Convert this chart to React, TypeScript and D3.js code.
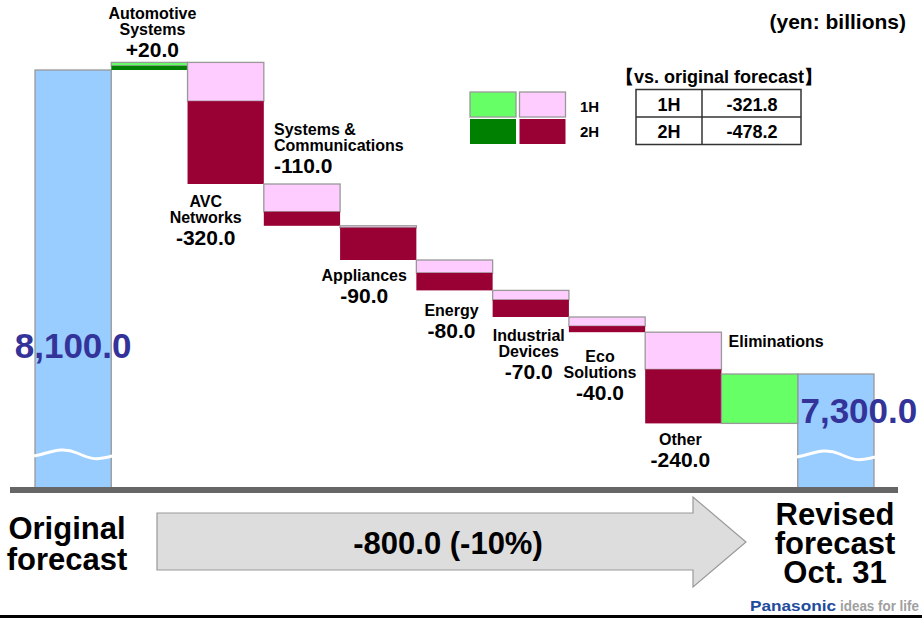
import React from 'react';
import * as d3 from 'd3';

// columns of the waterfall, left to right
const columns = [
  'Original forecast',
  'Automotive Systems',
  'AVC Networks',
  'Systems & Communications',
  'Appliances',
  'Energy',
  'Industrial Devices',
  'Eco Solutions',
  'Other',
  'Eliminations',
  'Revised forecast',
];
const segmentNames = columns.slice(1, -1);
const segmentLabelLines = [
  ['Automotive', 'Systems'],
  ['AVC', 'Networks'],
  ['Systems &', 'Communications'],
  ['Appliances'],
  ['Energy'],
  ['Industrial', 'Devices'],
  ['Eco', 'Solutions'],
  ['Other'],
  ['Eliminations'],
];
const segmentValueLabels = ['+20.0', '-320.0', '-110.0', '-90.0', '-80.0', '-70.0', '-40.0', '-240.0', ''];
// 1H / 2H parts of each change (yen billions)
const firstHalf = [9, -102, -73, -5, -34, -25, -24, -98, 130];
const secondHalf = [11, -218, -37, -85, -46, -45, -16, -142, 0];

const originalValue = 8100;
const revisedValue = 7300;
const originalLabel = '8,100.0';
const revisedLabel = '7,300.0';
const totalChangeLabel = '-800.0 (-10%)';

const tableTitle = '【vs. original forecast】';
const tableRows = [
  ['1H', '-321.8'],
  ['2H', '-478.2'],
];
const legendKeys = ['1H', '2H'];

// label placement per segment (offset from bar centre, relative to bar top or bottom)
const labelLayout = [
  { anchor: 'middle', dx: 3, ref: 'top', dy: -43 },
  { anchor: 'middle', dx: -20, ref: 'bottom', dy: 23 },
  { anchor: 'start', dx: -28, ref: 'top', dy: -49 },
  { anchor: 'middle', dx: -14, ref: 'bottom', dy: 21 },
  { anchor: 'middle', dx: -3, ref: 'bottom', dy: 26 },
  { anchor: 'middle', dx: -2, ref: 'bottom', dy: 24 },
  { anchor: 'middle', dx: -7, ref: 'bottom', dy: 30 },
  { anchor: 'middle', dx: -3, ref: 'bottom', dy: 22 },
  { anchor: 'start', dx: -31, ref: 'top', dy: -27 },
];

const FONT = '"Liberation Sans", Arial, Helvetica, sans-serif';
const C = {
  blue: '#99ccff',
  pink: '#ffccff',
  wine: '#990033',
  lightGreen: '#66ff66',
  darkGreen: '#008000',
  edge: '#999999',
  number: '#333399',
};

const App = () => {
  const width = 922;
  const height = 618;

  const x = d3.scaleBand().domain(columns).range([35, 874]).padding(0);
  const y = d3.scaleLinear().domain([7000, 8100]).range([488, 70]);
  const bw = x.bandwidth();

  // build waterfall pieces
  let running = originalValue;
  const pieces = segmentNames.map((name, i) => {
    const h1 = firstHalf[i];
    const h2 = secondHalf[i];
    const total = h1 + h2;
    const top = Math.max(running, running + total);
    const bottom = Math.min(running, running + total);
    const mid = top - Math.abs(h1);
    const positive = total > 0;
    running += total;
    return { name, i, top, mid, bottom, positive };
  });

  const wave = (x0: number, x1: number, y0: number) => {
    const w = x1 - x0;
    return `M${x0},${y0} C${x0 + w * 0.2},${y0 - 3} ${x0 + w * 0.35},${y0 - 10} ${x0 + w * 0.55},${y0 - 3}` +
      ` S${x0 + w * 0.8},${y0 + 4} ${x1},${y0}`;
  };

  const bold = { fontFamily: FONT, fontWeight: 700 } as const;

  const xo = x(columns[0])!;
  const xr = x(columns[columns.length - 1])!;

  return (
    <svg width={width} height={height} style={{ position: 'absolute', left: 0, top: 0, background: '#fff' }}>
      {/* start and end bars */}
      <rect x={xo} y={y(originalValue)} width={bw} height={y(7000) - y(originalValue)} fill={C.blue} stroke={C.edge} strokeWidth={1.3} />
      <rect x={xr} y={y(revisedValue)} width={bw} height={y(7000) - y(revisedValue)} fill={C.blue} stroke={C.edge} strokeWidth={1.3} />
      <path d={wave(xo - 1, xo + bw + 1, 456)} fill="none" stroke="#fff" strokeWidth={3} />
      <path d={wave(xr - 1, xr + bw + 1, 457)} fill="none" stroke="#fff" strokeWidth={3} />

      {/* change segments */}
      {pieces.map((p) => {
        const bx = x(p.name)!;
        return (
          <g key={p.name}>
            <rect x={bx} y={y(p.top)} width={bw} height={y(p.mid) - y(p.top)}
              fill={p.positive ? C.lightGreen : C.pink} stroke={C.edge} strokeWidth={1.3} />
            {p.mid > p.bottom && (
              <rect x={bx} y={y(p.mid)} width={bw} height={y(p.bottom) - y(p.mid)}
                fill={p.positive ? C.darkGreen : C.wine} />
            )}
          </g>
        );
      })}

      {/* segment labels */}
      {pieces.map((p) => {
        const L = labelLayout[p.i];
        const cx = x(p.name)! + bw / 2 + L.dx;
        const base = (L.ref === 'top' ? y(p.top) : y(p.bottom)) + L.dy;
        const lines = segmentLabelLines[p.i];
        return (
          <g key={'l' + p.name} style={bold} textAnchor={L.anchor}>
            {lines.map((t, k) => (
              <text key={k} x={cx} y={base + k * 16} fontSize={16}>{t}</text>
            ))}
            {segmentValueLabels[p.i] && (
              <text x={cx} y={base + (lines.length - 1) * 16 + 22} fontSize={21}>{segmentValueLabels[p.i]}</text>
            )}
          </g>
        );
      })}

      {/* big totals */}
      <text x={xo + bw / 2} y={358} textAnchor="middle" fontSize={35} fill={C.number} style={bold}>{originalLabel}</text>
      <text x={xr + bw / 2 + 23} y={423} textAnchor="middle" fontSize={35} fill={C.number} style={bold}>{revisedLabel}</text>

      {/* baseline */}
      <rect x={10} y={487} width={888} height={6} fill="#666" />

      {/* unit */}
      <text x={906} y={29} textAnchor="end" fontSize={21} style={bold}>(yen: billions)</text>

      {/* legend */}
      <rect x={470} y={92} width={46} height={25} fill={C.lightGreen} stroke={C.edge} strokeWidth={1.3} />
      <rect x={519.5} y={92} width={46} height={25} fill={C.pink} stroke={C.edge} strokeWidth={1.3} />
      <rect x={470} y={119} width={46} height={25} fill={C.darkGreen} />
      <rect x={519.5} y={119} width={46} height={25} fill={C.wine} />
      {legendKeys.map((k, i) => (
        <text key={k} x={580} y={112 + i * 25} fontSize={15} style={bold}>{k}</text>
      ))}

      {/* summary table */}
      <text x={719} y={83} textAnchor="middle" fontSize={18} style={bold}>{tableTitle}</text>
      <rect x={636} y={89.5} width={165} height={55} fill="#fff" stroke="#333" strokeWidth={1.5} />
      <line x1={702} x2={702} y1={89.5} y2={144.5} stroke="#333" strokeWidth={1.5} />
      <line x1={636} x2={801} y1={117} y2={117} stroke="#333" strokeWidth={1.5} />
      {tableRows.map((r, i) => (
        <g key={r[0]} style={bold} fontSize={18} textAnchor="middle">
          <text x={669} y={111 + i * 27}>{r[0]}</text>
          <text x={752} y={111 + i * 27}>{r[1]}</text>
        </g>
      ))}

      {/* bottom arrow and captions */}
      <polygon points="157,513 693,513 693,497 746,542 693,587 693,570 157,570" fill="#dddddd" stroke="#999" strokeWidth={1.2} />
      <text x={448} y={554} textAnchor="middle" fontSize={31} style={bold}>{totalChangeLabel}</text>
      <g style={bold} fontSize={31} textAnchor="middle">
        <text x={67} y={539}>Original</text>
        <text x={67} y={570}>forecast</text>
        <text x={835} y={525}>Revised</text>
        <text x={835} y={554}>forecast</text>
        <text x={835} y={583}>Oct. 31</text>
      </g>

      {/* logo */}
      <text x={750} y={611} fontSize={15} style={{ fontFamily: FONT, fontWeight: 900 }} fill="#1e4b9c" textLength={86} lengthAdjust="spacingAndGlyphs">Panasonic</text>
      <text x={840} y={611} fontSize={15} style={bold} fill="#a0a0a0" textLength={79} lengthAdjust="spacingAndGlyphs">ideas for life</text>
      <rect x={0} y={615} width={922} height={3} fill="#000" />
    </svg>
  );
};

export default App;
